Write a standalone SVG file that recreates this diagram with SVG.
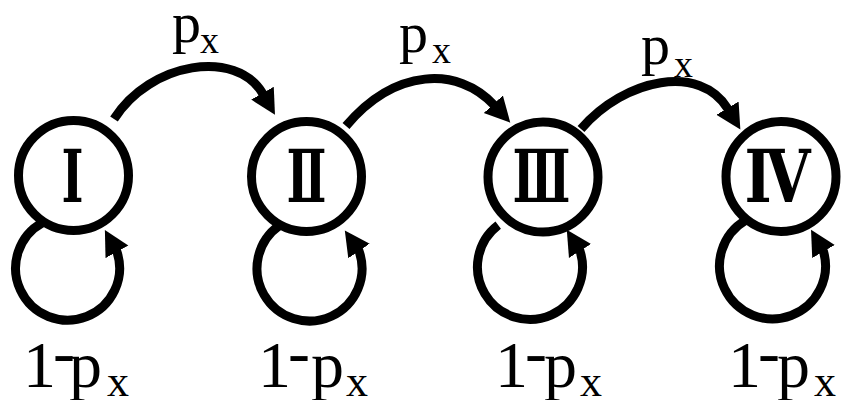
<svg xmlns="http://www.w3.org/2000/svg" width="843" height="400" viewBox="0 0 843 400">
<defs>
<style>
.node circle{fill:#fff;stroke:#000;stroke-width:9}
.num{font-family:"DejaVu Serif","Liberation Serif","Noto Sans CJK JP",serif;font-weight:bold;font-size:73px;fill:#000;text-anchor:middle}
.edge{fill:none;stroke:#000;stroke-width:9;marker-end:url(#ah)}
.lbl{font-family:"Liberation Serif","Times New Roman",serif;fill:#000}
.top{font-size:58px}
.bot{font-size:66px}
.sub{font-size:38px}
.bsub{font-size:44px}
</style>
<marker id="ah" markerUnits="userSpaceOnUse" viewBox="0 -14 26 28" refX="1" refY="0" markerWidth="26" markerHeight="28" orient="auto"><path d="M0,-13 L25,0 L0,13 z" fill="#000"/></marker>
</defs>
<rect width="843" height="400" fill="#fff"/>
<g id="connectors">
<path class="edge" d="M114,119 C150,62 236.5,48 263,94"/>
<path class="edge" d="M346,126 C395,68 458,66 494,105"/>
<path class="edge" d="M581,129 C625,78 700.6,63.4 728,109"/>
<path class="edge" d="M42.8,222.5 A52 52 0 1 0 117,252 l-0.55,-1"/>
<path class="edge" d="M279.4,225.5 A52.5 52.5 0 1 0 359,251 l-0.57,-0.83"/>
<path class="edge" d="M498.2,225.1 A52.5 52.5 0 1 0 580,251 l-0.53,-0.85"/>
<path class="edge" d="M745.9,220.1 A53 53 0 1 0 823.5,251.5 l-0.5,-0.87"/>
</g>
<g id="edge-labels" class="lbl">
<text class="top"><tspan x="172" y="42">p</tspan><tspan class="sub" x="200" y="53">x</tspan></text>
<text class="top"><tspan x="399" y="52">p</tspan><tspan class="sub" x="432" y="63">x</tspan></text>
<text class="top"><tspan x="641" y="64">p</tspan><tspan class="sub" x="674" y="77">x</tspan></text>
<text class="bot"><tspan x="23" y="387">1</tspan><tspan x="53" y="374">-</tspan><tspan x="69" y="387">p</tspan><tspan class="bsub" x="107" y="396">x</tspan></text>
<text class="bot"><tspan x="258" y="387">1</tspan><tspan x="288" y="374">-</tspan><tspan x="311" y="387">p</tspan><tspan class="bsub" x="346" y="396">x</tspan></text>
<text class="bot"><tspan x="495" y="387">1</tspan><tspan x="525" y="374">-</tspan><tspan x="544" y="387">p</tspan><tspan class="bsub" x="580" y="396">x</tspan></text>
<text class="bot"><tspan x="728" y="387">1</tspan><tspan x="758" y="374">-</tspan><tspan x="777" y="387">p</tspan><tspan class="bsub" x="814" y="396">x</tspan></text>
</g>
<g id="node-I" class="node"><circle cx="73.5" cy="175.5" r="55"/><text class="num" x="72.5" y="202" textLength="22" lengthAdjust="spacingAndGlyphs">Ⅰ</text></g>
<g id="node-II" class="node"><circle cx="306.5" cy="176.5" r="55"/><text class="num" x="306.5" y="202" textLength="40" lengthAdjust="spacingAndGlyphs">Ⅱ</text></g>
<g id="node-III" class="node"><circle cx="543" cy="177" r="55"/><text class="num" x="541.5" y="202" textLength="58" lengthAdjust="spacingAndGlyphs">Ⅲ</text></g>
<g id="node-IV" class="node"><circle cx="781" cy="176.5" r="55"/><text class="num" x="777.5" y="202" textLength="66" lengthAdjust="spacingAndGlyphs">Ⅳ</text></g>
</svg>
